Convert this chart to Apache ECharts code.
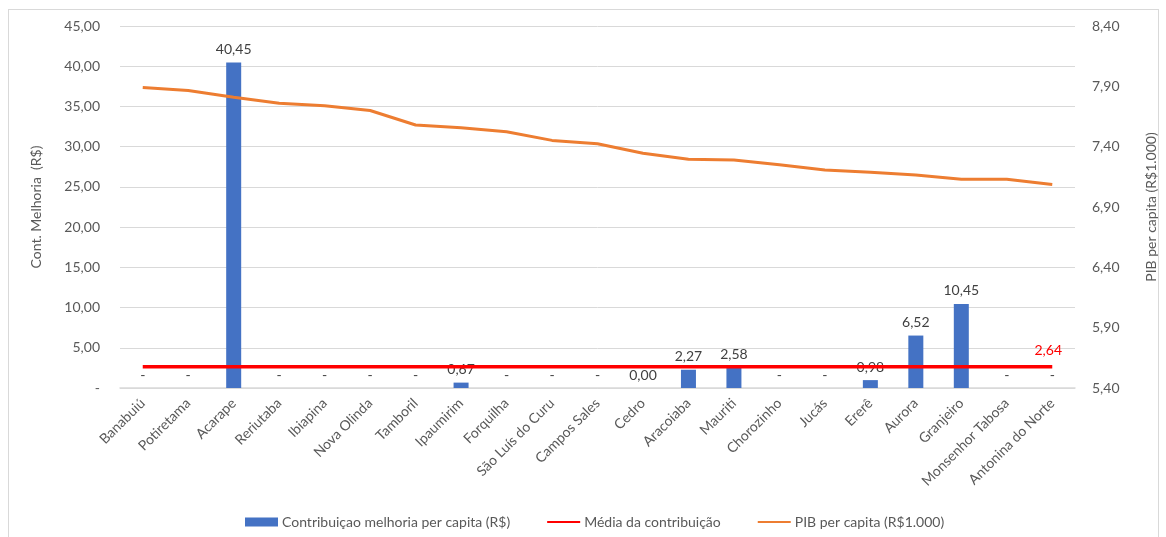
<!DOCTYPE html>
<html>
<head>
<meta charset="utf-8">
<script src="https://cdn.jsdelivr.net/npm/echarts@6/dist/echarts.min.js"></script>
<style>
html,body{margin:0;padding:0;background:#fff;}
#frame{position:absolute;left:8px;top:9px;width:1151px;height:540px;border:1px solid #D9D9D9;box-sizing:border-box;}
#chart{position:absolute;left:0;top:0;width:1166px;height:537px;}
</style>
</head>
<body>
<div id="frame"></div>
<div id="chart"></div>
<script>
const categories = ["Banabuiú","Potiretama","Acarape","Reriutaba","Ibiapina","Nova Olinda","Tamboril","Ipaumirim","Forquilha","São Luís do Curu","Campos Sales","Cedro","Aracoiaba","Mauriti","Chorozinho","Jucás","Ererê","Aurora","Granjeiro","Monsenhor Tabosa","Antonina do Norte"];
const contribuicao = [0,0,40.45,0,0,0,0,0.67,0,0,0,0.001,2.27,2.58,0,0,0.98,6.52,10.45,0,0];
const mediaValor = 2.64;
const media = categories.map(() => mediaValor);
const pib = [7.89,7.865,7.81,7.76,7.74,7.70,7.58,7.556,7.524,7.452,7.424,7.345,7.295,7.29,7.25,7.206,7.187,7.165,7.13,7.13,7.087];
const leftTicks = {min:0, max:45, interval:5};
const rightTicks = {min:5.4, max:8.4, interval:0.5};

const fmt = v => v.toFixed(2).replace('.', ',');
const FONT = 'Lato';
const LINE_ICON = 'path://M0,0H0.01V0.01H0Z M0,3.5H33V5.5H0Z M32.99,8.99H33V9H32.99Z';
const chart = echarts.init(document.getElementById('chart'));
chart.setOption({
  animation:false,
  textStyle:{fontFamily:FONT},
  grid:{left:120, right:89, top:26, bottom:149},
  legend:{
    top:515, left:245, padding:0, itemWidth:33, itemHeight:9, itemGap:37,
    textStyle:{fontFamily:FONT, fontSize:14, color:'#595959', padding:[0,0,0,-1]},
    data:[
      {name:'Contribuiçao melhoria per capita (R$)', icon:'rect'},
      {name:'Média da contribuição', icon:LINE_ICON},
      {name:'PIB per capita (R$1.000)', icon:LINE_ICON}
    ]
  },
  xAxis:{
    type:'category', data:categories, boundaryGap:true,
    axisLine:{lineStyle:{color:'#D9D9D9', width:1.5}},
    axisTick:{show:false},
    axisLabel:{rotate:45, fontSize:14, color:'#595959', margin:13, interval:0}
  },
  yAxis:[
    {type:'value', min:leftTicks.min, max:leftTicks.max, interval:leftTicks.interval,
     name:'Cont. Melhoria  (R$)', nameLocation:'middle', nameGap:77, nameRotate:90,
     nameTextStyle:{fontSize:14, color:'#595959', fontFamily:FONT},
     axisLine:{show:false}, axisTick:{show:false},
     splitLine:{lineStyle:{color:'#D9D9D9', width:1}},
     axisLabel:{fontSize:14, color:'#595959', margin:20, formatter:v => v===0 ? '-' : fmt(v)}},
    {type:'value', min:rightTicks.min, max:rightTicks.max, interval:rightTicks.interval,
     name:'PIB per capita (R$1.000)', nameLocation:'middle', nameGap:69, nameRotate:90,
     nameTextStyle:{fontSize:14, color:'#595959', fontFamily:FONT},
     axisLine:{show:false}, axisTick:{show:false}, splitLine:{show:false},
     axisLabel:{fontSize:14, color:'#595959', margin:17, formatter:v => fmt(v)}}
  ],
  series:[
    {name:'Contribuiçao melhoria per capita (R$)', type:'bar', data:contribuicao, barWidth:15,
     itemStyle:{color:'#4472C4'},
     label:{show:true, position:'top', distance:6, fontSize:14, color:'#404040', fontFamily:FONT,
            formatter:p => p.value===0 ? '-' : fmt(p.value)}},
    {name:'PIB per capita (R$1.000)', type:'line', yAxisIndex:1, data:pib, symbol:'none',
     lineStyle:{color:'#ED7D31', width:3}, itemStyle:{color:'#ED7D31'}},
    {name:'Média da contribuição', type:'line', data:media, symbol:'circle', symbolSize:0.01, showSymbol:true, z:5,
     lineStyle:{color:'#FF0000', width:3.5}, itemStyle:{color:'#FF0000'},
     label:{show:true, position:'top', distance:9, fontSize:14, color:'#FF0000', fontFamily:FONT, offset:[-4,0],
            formatter:p => p.dataIndex===categories.length-1 ? fmt(p.value) : ''}}
  ]
});
</script>
</body>
</html>
